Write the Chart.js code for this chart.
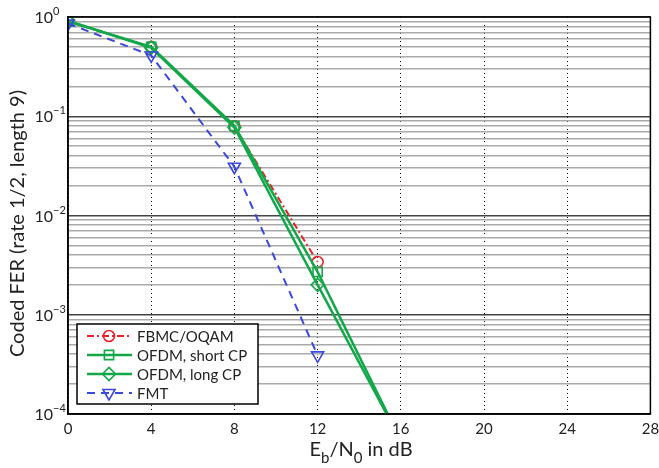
<!DOCTYPE html>
<html>
<head>
<meta charset="utf-8">
<script src="https://cdn.jsdelivr.net/npm/chart.js@4.4.1/dist/chart.umd.min.js"></script>
<style>
  html, body { margin: 0; padding: 0; background: #fff; }
  #wrap { width: 659px; height: 468px; }
</style>
</head>
<body>
<div id="wrap"><canvas id="fer-chart"></canvas></div>
<script>
// Eb/N0 in dB
const ebN0 = [0, 4, 8, 12, 16];
// coded FER per waveform
const fbmcFer = [0.9, 0.5, 0.079, 0.0034];
const ofdmShortFer = [0.9, 0.5, 0.08, 0.0027, 0.000054];
const ofdmLongFer = [0.92, 0.49, 0.077, 0.002, 0.000054];
const fmtFer = [0.86, 0.41, 0.031, 0.00039];
// axes
const xTicks = [0, 4, 8, 12, 16, 20, 24, 28];
const yDecades = [-4, -3, -2, -1, 0];

const FONT = "Lato, 'DejaVu Sans', sans-serif";
const RED = '#e8222c';
const GREEN = '#12a84a';
const BLUE = '#3a48dc';

const toPoints = (vals) => vals.map((v, i) => ({ x: ebN0[i], y: v }));

const yTickValues = [];
yDecades.forEach((d) => {
    for (let m = 1; m <= 9; m++) {
        if (d === 0 && m > 1) break;
        yTickValues.push(m * Math.pow(10, d));
    }
});
const isDecade = (v) => Math.abs(Math.log10(v) - Math.round(Math.log10(v))) < 1e-9;

const series = (label, vals, color, style, extra) => Object.assign({
    label: label,
    data: toPoints(vals),
    borderColor: color,
    backgroundColor: color,
    borderWidth: 2,
    pointStyle: style,
    pointRadius: 5,
    pointBorderWidth: 1.6,
    pointBorderColor: color,
    pointBackgroundColor: 'rgba(0,0,0,0)',
    pointHoverRadius: 5,
    tension: 0
}, extra);

const datasets = [
    series('FBMC/OQAM', fbmcFer, RED, 'circle', { borderDash: [7, 3, 2, 3], pointRadius: 5.5, order: 3 }),
    series('OFDM, short CP', ofdmShortFer, GREEN, 'rect', { borderWidth: 2.5, pointRadius: 6.5, order: 2 }),
    series('OFDM, long CP', ofdmLongFer, GREEN, 'rectRot', { borderWidth: 2.5, pointRadius: 6.5, order: 1 }),
    series('FMT', fmtFer, BLUE, 'triangle', { borderDash: [8, 6], pointRotation: 180, pointRadius: 7, order: 0 })
];

const drawMarker = (ctx, ds, x, y) => {
    ctx.save();
    ctx.setLineDash([]);
    ctx.strokeStyle = ds.pointBorderColor;
    ctx.fillStyle = 'rgba(0,0,0,0)';
    ctx.lineWidth = ds.pointBorderWidth;
    Chart.helpers.drawPoint(ctx, {
        pointStyle: ds.pointStyle,
        rotation: ds.pointRotation || 0,
        radius: ds.pointRadius,
        borderWidth: ds.pointBorderWidth
    }, x, y);
    ctx.restore();
};

const decor = {
    id: 'decor',
    afterDraw(chart) {
        const ctx = chart.ctx;
        const area = chart.chartArea;
        const yScale = chart.scales.y;

        // frame
        ctx.save();
        ctx.strokeStyle = '#000';
        ctx.lineWidth = 1.5;
        ctx.strokeRect(area.left, area.top, area.right - area.left, area.bottom - area.top);

        // y tick labels 10^n
        ctx.fillStyle = '#222';
        yDecades.forEach((d) => {
            const y = yScale.getPixelForValue(Math.pow(10, d));
            ctx.font = '16px ' + FONT;
            ctx.textAlign = 'right';
            ctx.textBaseline = 'alphabetic';
            ctx.fillText('10', 53, y + 6);
            ctx.font = '11px ' + FONT;
            ctx.textAlign = 'left';
            ctx.fillText(d === 0 ? '0' : '\u2212' + Math.abs(d), 53, y - 2);
        });

        // y title
        ctx.save();
        ctx.translate(24, (area.top + area.bottom) / 2 + 8);
        ctx.rotate(-Math.PI / 2);
        ctx.font = '20px ' + FONT;
        ctx.textAlign = 'center';
        ctx.textBaseline = 'alphabetic';
        ctx.fillStyle = '#222';
        ctx.fillText('Coded FER (rate 1/2, length 9)', 0, 0);
        ctx.restore();

        // x title: E_b/N_0 in dB
        const parts = [['E', 0, 20], ['b', 7, 15], ['/N', 0, 20], ['0', 7, 15], [' in dB', 0, 20]];
        let total = 0;
        parts.forEach((p) => { ctx.font = p[2] + 'px ' + FONT; total += ctx.measureText(p[0]).width; });
        let xPos = 361 - total / 2;
        const base = 456;
        ctx.textAlign = 'left';
        parts.forEach((p) => {
            ctx.font = p[2] + 'px ' + FONT;
            ctx.fillText(p[0], xPos, base + p[1]);
            xPos += ctx.measureText(p[0]).width;
        });

        // legend
        const box = { x: 77, y: 324, w: 181, h: 80 };
        ctx.fillStyle = '#fff';
        ctx.fillRect(box.x, box.y, box.w, box.h);
        ctx.strokeStyle = '#000';
        ctx.lineWidth = 1.5;
        ctx.strokeRect(box.x, box.y, box.w, box.h);
        const rows = [336, 355, 374, 393];
        chart.data.datasets.forEach((ds, i) => {
            const y = rows[i];
            ctx.save();
            ctx.strokeStyle = ds.borderColor;
            ctx.lineWidth = ds.borderWidth;
            ctx.setLineDash(ds.borderDash || []);
            ctx.beginPath();
            ctx.moveTo(87, y);
            ctx.lineTo(132, y);
            ctx.stroke();
            ctx.restore();
            drawMarker(ctx, ds, 109, y);
            ctx.fillStyle = '#222';
            ctx.font = '15px ' + FONT;
            ctx.textBaseline = 'middle';
            ctx.fillText(ds.label, 137, y + 1);
        });
        ctx.restore();
    }
};

new Chart(document.getElementById('fer-chart'), {
    type: 'line',
    data: { datasets: datasets },
    options: {
        responsive: true,
        maintainAspectRatio: false,
        animation: false,
        elements: { line: { tension: 0, cubicInterpolationMode: 'default' } },
        layout: { padding: { left: 68, top: 17, right: 8, bottom: 24 } },
        plugins: { legend: { display: false }, tooltip: { enabled: false } },
        scales: {
            x: {
                type: 'linear',
                min: 0,
                max: 28,
                afterBuildTicks: (scale) => { scale.ticks = xTicks.map((v) => ({ value: v })); },
                afterFit: (scale) => { scale.paddingRight = 0; scale.paddingLeft = 0; },
                grid: { color: '#000', lineWidth: 1, drawTicks: false },
                border: { color: '#000', width: 1.5, dash: [1, 3] },
                ticks: { font: { size: 15, family: FONT }, color: '#222', padding: 6, maxRotation: 0, autoSkip: false }
            },
            y: {
                type: 'logarithmic',
                min: 1e-4,
                max: 1,
                afterBuildTicks: (scale) => {
                    scale.ticks = yTickValues.map((v) => ({ value: v, major: isDecade(v) }));
                },
                grid: {
                    drawTicks: false,
                    color: (c) => (c.tick && isDecade(c.tick.value)) ? '#444' : '#aaa',
                    lineWidth: 1.5
                },
                border: { color: '#000', width: 1.5 },
                ticks: { display: false }
            }
        }
    },
    plugins: [decor]
});
</script>
</body>
</html>
